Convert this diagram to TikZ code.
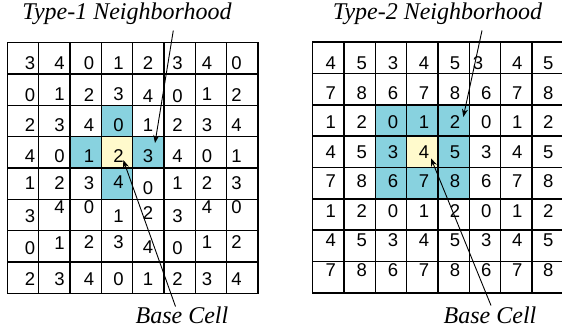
\documentclass[tikz,border=0pt]{standalone}
\usepackage{fontspec}
\setmainfont{Liberation Serif}
\setsansfont{Liberation Sans}
\usetikzlibrary{arrows.meta}
\definecolor{nbcyan}{HTML}{88D2DF}
\definecolor{basey}{HTML}{FFFACC}
\begin{document}
\begin{tikzpicture}[x=1pt,y=-1pt,
 cellnode/.style={minimum width=31.33pt,minimum height=31.33pt,inner sep=0pt,outer sep=0pt,anchor=north west},
 digit/.style={font=\sffamily\fontsize{18.5}{18.5}\selectfont,inner sep=0pt,anchor=center},
 lab/.style={font=\rmfamily\itshape\fontsize{24}{26}\selectfont,inner sep=0pt,anchor=base},
 gridline/.style={line width=1.4pt,line cap=rect},
 arr/.style={line width=0.9pt,-{Stealth[length=8pt,width=6pt]}}]
\useasboundingbox (0,0) rectangle (562,331);
\begin{scope}
\clip (0,0) rectangle (562,331);
% cells
\foreach \r in {0,...,7}{\foreach \c in {0,...,7}{
  \node[cellnode] (L-\r-\c) at ({7.3+31.33*\c},{42.7+31.33*\r}) {};
  \node[cellnode] (R-\r-\c) at ({312.7+31.33*\c},{42.2+31.33*\r}) {};
}}
% highlighted cells, left
\foreach \cell in {L-2-3,L-3-2,L-3-4,L-4-3}
  \fill[nbcyan] (\cell.north west) rectangle (\cell.south east);
\fill[basey] (L-3-3.north west) rectangle (L-3-3.south east);
% highlighted cells, right
\foreach \r in {2,3,4}{\foreach \c in {2,3,4}{
  \fill[nbcyan] (R-\r-\c.north west) rectangle (R-\r-\c.south east);}}
\fill[basey] (R-3-3.north west) rectangle (R-3-3.south east);
% grid lines
\foreach \i in {0,...,8}{
  \draw[gridline] ({7.3+31.33*\i},42.7) -- ++(0,250.64);
  \draw[gridline] (7.3,{42.7+31.33*\i}) -- ++(250.64,0);
  \draw[gridline] ({312.7+31.33*\i},42.2) -- ++(0,250.64);
  \draw[gridline] (312.7,{42.2+31.33*\i}) -- ++(260,0);
}
% digits, left
\foreach \r/\ys in {0/{63,63,63,63,63,63,63,63},
                    1/{95.5,94.5,95.5,94.5,96,96,94.5,95.5},
                    2/{125.5,125.5,125.5,125.5,125.5,125.5,125.5,125.5},
                    3/{155.8,155.8,155.8,155.8,155.8,155.8,155.8,155.8},
                    4/{183.3,183.3,183.3,181.7,188.3,183.3,183.3,183.3},
                    5/{216.5,207,207,216.5,213,216.5,207,207},
                    6/{248.3,243,242,242,247,248.3,242,242},
                    7/{279,279,279,279,279,279,279,279}}{
  \foreach \yy [count=\cc from 0] in \ys {
    \pgfmathtruncatemacro\v{mod(3+2*\r+\cc,5)}
    \node[digit] (dL-\r-\cc) at ({30+29.5*\cc},\yy) {\v};
  }
}
% digits, right
\foreach \r in {0,...,7}{\foreach \c in {0,...,7}{
  \pgfmathtruncatemacro\v{3*mod(\r+1,3)+mod(\c+1,3)}
  \pgfmathsetmacro\xx{(\r==0 && \c==5) ? 478 : 330.8+31.07*\c}
  \node[digit] (dR-\r-\c) at (\xx,{63.3+29.5*\r}) {\v};
}}
\end{scope}
% labels
\node[lab] (t1) at (127,20) {Type-1 Neighborhood};
\node[lab] (t2) at (437.5,20) {Type-2 Neighborhood};
\node[lab] (b1) at (182,323.5) {Base Cell};
\node[lab] (b2) at (490,323.5) {Base Cell};
% arrows
\coordinate (a1s) at (173.3,30.5);
\coordinate (a1e) at (155,143);
\coordinate (b1s) at (175.5,306.5);
\coordinate (b1e) at (123.3,160);
\coordinate (a2s) at (482,30.5);
\coordinate (a2e) at (463.3,117);
\coordinate (b2s) at (491,305.5);
\coordinate (b2e) at (431,158.3);
\draw[arr] (a1s) -- (a1e);
\draw[arr] (b1s) -- (b1e);
\draw[arr] (a2s) -- (a2e);
\draw[arr] (b2s) -- (b2e);
\end{tikzpicture}
\end{document}
